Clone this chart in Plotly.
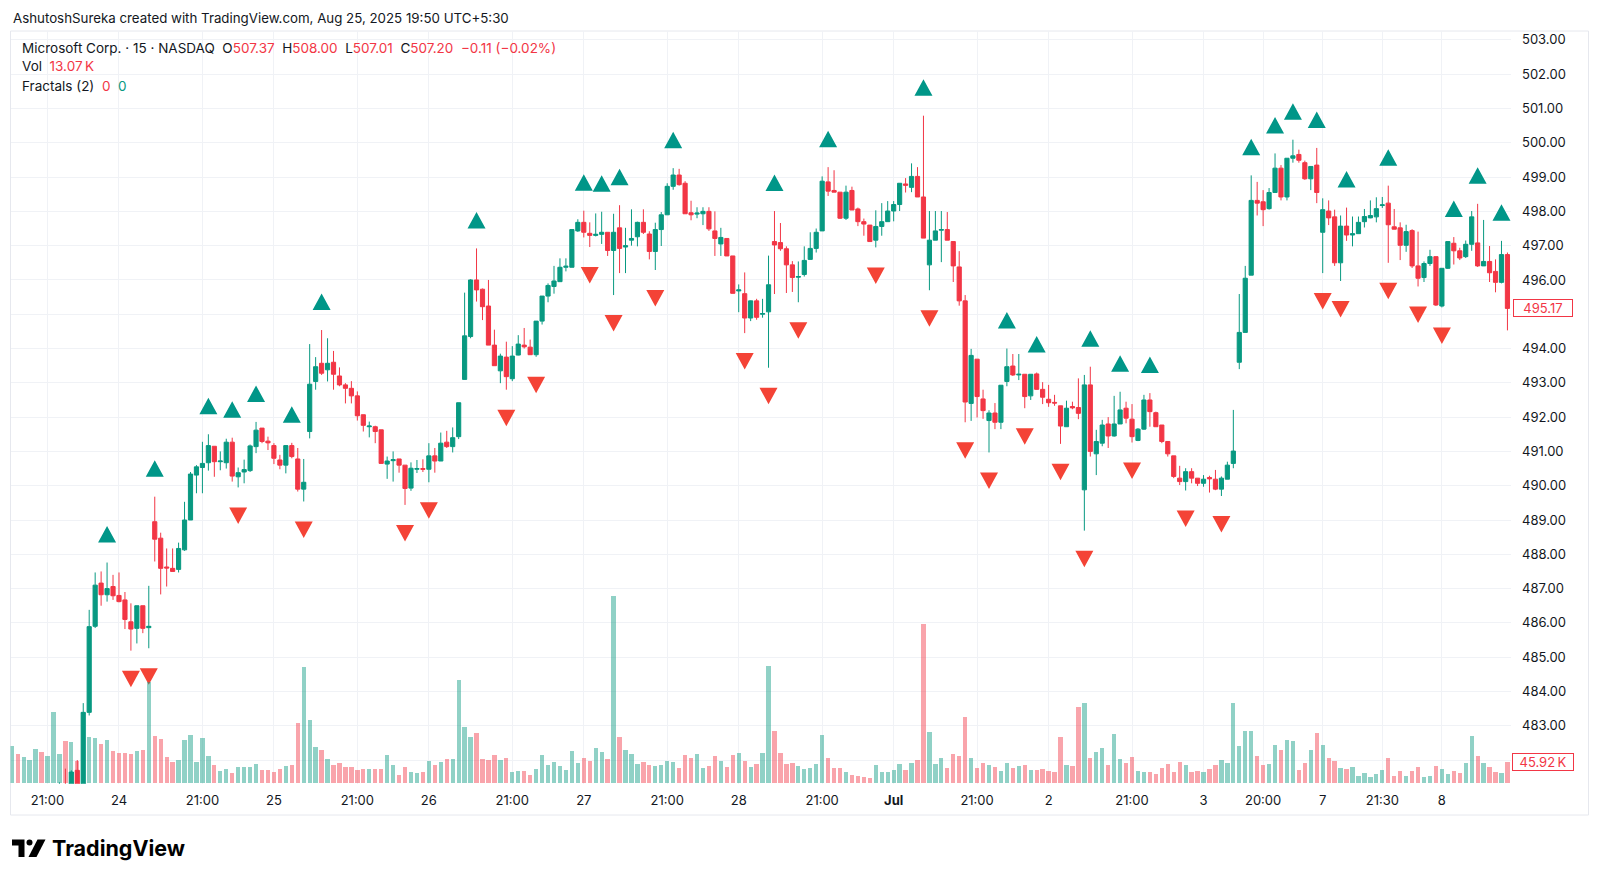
import plotly.graph_objects as go

W, H = 1600, 882

# ---------------- data (15-min bars, MSFT, NASDAQ) ----------------
opens = [
    480.2, 480.4, 480.1, 480.3, 480.6, 480.8, 480.5, 480.7, 481.0, 481.2,
    480.95, 481.7, 481.0, 483.39, 485.9, 487.16, 486.82, 487.06, 486.8, 486.67,
    486.03, 485.84, 486.5, 485.86, 488.95, 488.47, 487.63, 487.59, 487.56, 488.13,
    489.0, 490.31, 490.53, 490.67, 491.15, 490.7, 490.67, 491.27, 490.26, 490.4,
    490.44, 491.14, 491.68, 491.3, 491.17, 490.75, 490.6, 491.17, 490.78, 489.9,
    491.58, 493.04, 493.57, 493.38, 493.6, 493.2, 492.94, 492.84, 492.62, 492.07,
    491.72, 491.72, 491.63, 490.63, 490.73, 490.78, 490.6, 489.93, 490.48, 490.5,
    490.48, 490.87, 490.72, 491.27, 491.14, 491.43, 493.1, 494.35, 496.0, 495.73,
    495.24, 494.1, 493.35, 493.75, 493.12, 493.81, 494.1, 494.04, 493.82, 494.8,
    495.53, 495.81, 495.95, 496.37, 496.37, 497.43, 497.68, 497.36, 497.3, 497.33,
    497.39, 496.86, 497.52, 496.96, 497.16, 497.26, 497.68, 497.34, 496.83, 497.47,
    497.9, 498.73, 499.06, 498.82, 497.96, 497.92, 497.93, 498.0, 497.43, 497.05,
    497.21, 496.7, 495.68, 495.6, 494.89, 495.39, 495.0, 495.07, 497.12, 497.09,
    496.91, 496.44, 496.08, 496.16, 496.6, 496.92, 497.43, 498.86, 498.61, 498.56,
    497.8, 498.61, 498.07, 497.7, 497.6, 497.16, 497.56, 497.7, 498.01, 498.2,
    498.8, 498.7, 499.02, 498.42, 496.44, 497.16, 497.45, 497.47, 497.12, 496.38,
    495.39, 492.4, 493.69, 492.53, 491.9, 492.12, 491.85, 493.04, 493.49, 493.23,
    493.25, 492.62, 493.26, 492.81, 492.52, 492.43, 492.33, 491.72, 492.31, 492.28,
    489.88, 492.94, 490.93, 491.24, 491.8, 491.45, 491.8, 492.26, 491.94, 491.32,
    491.65, 492.5, 492.13, 491.77, 491.29, 490.87, 490.22, 490.12, 490.41, 490.22,
    490.07, 490.24, 490.19, 489.9, 490.19, 490.65, 493.6, 494.47, 496.14, 498.32,
    498.28, 498.08, 498.55, 499.26, 498.42, 499.55, 499.66, 499.42, 498.95, 499.35,
    497.39, 498.01, 497.84, 496.5, 497.57, 497.31, 497.35, 497.7, 497.81, 497.84,
    498.17, 498.24, 497.55, 497.52, 497.01, 497.44, 496.41, 496.07, 496.48, 496.68,
    495.24, 496.34, 497.07, 496.85, 496.68, 497.04, 497.08, 496.41, 496.54, 496.25,
    495.93, 496.74,
]
highs = [
    480.6, 480.7, 480.5, 480.8, 481.0, 481.1, 480.9, 481.2, 481.35, 481.75,
    481.7, 482.0, 483.66, 486.38, 487.47, 487.5, 487.76, 487.4, 487.47, 486.9,
    486.57, 486.5, 486.5, 487.08, 489.68, 488.63, 488.17, 488.17, 488.34, 489.53,
    490.4, 490.6, 491.28, 491.5, 491.15, 491.0, 491.37, 491.4, 490.53, 490.76,
    491.2, 491.86, 491.68, 491.43, 491.24, 490.9, 491.18, 491.25, 491.1, 490.78,
    494.13, 493.75, 494.54, 494.3, 493.93, 493.45, 492.99, 493.05, 492.75, 492.07,
    491.87, 491.75, 491.63, 490.85, 491.0, 490.78, 490.6, 490.68, 490.75, 490.77,
    491.24, 491.1, 491.55, 491.6, 491.7, 492.42, 495.63, 496.02, 496.92, 495.75,
    496.0, 494.55, 493.85, 494.2, 494.07, 494.39, 494.6, 494.26, 494.8, 495.53,
    495.9, 496.41, 496.63, 496.63, 497.47, 497.77, 498.02, 497.68, 497.94, 497.99,
    497.39, 497.93, 498.18, 497.52, 498.06, 497.7, 498.06, 497.42, 497.67, 497.98,
    498.82, 499.26, 499.24, 498.88, 498.31, 498.12, 498.12, 498.12, 498.0, 497.52,
    497.21, 496.7, 495.87, 496.22, 495.4, 495.45, 495.45, 496.71, 498.01, 497.66,
    496.98, 496.55, 496.54, 496.98, 497.39, 497.5, 499.02, 499.29, 499.2, 498.56,
    498.75, 498.72, 498.11, 497.79, 497.6, 498.03, 498.24, 498.3, 498.3, 498.82,
    498.97, 499.4, 499.29, 500.79, 498.01, 498.01, 498.01, 497.98, 497.12, 496.84,
    495.56, 493.99, 493.69, 492.8, 492.2, 492.41, 492.93, 494.0, 493.84, 493.84,
    493.25, 493.25, 493.3, 493.02, 492.94, 492.65, 492.33, 492.48, 492.45, 493.13,
    493.23, 493.47, 491.63, 491.92, 492.0, 492.62, 492.74, 492.45, 492.38, 491.68,
    492.65, 492.7, 492.16, 491.77, 491.29, 490.87, 490.58, 490.51, 490.51, 490.22,
    490.31, 490.29, 490.46, 490.27, 490.7, 492.21, 495.59, 496.41, 499.05, 498.86,
    498.62, 498.68, 499.69, 499.35, 499.55, 500.09, 499.8, 499.48, 499.31, 499.85,
    498.38, 498.32, 498.05, 497.88, 498.11, 497.85, 497.85, 498.07, 498.32, 498.41,
    498.42, 498.75, 498.07, 497.68, 497.61, 497.48, 497.41, 496.54, 496.88, 496.68,
    496.34, 497.12, 497.25, 496.94, 497.15, 498.01, 498.22, 497.75, 496.99, 496.6,
    497.14, 496.8,
]
lows = [
    479.9, 480.0, 479.8, 480.1, 480.3, 480.3, 480.2, 480.4, 480.7, 480.8,
    480.7, 480.9, 480.8, 483.3, 485.85, 486.5, 486.62, 486.67, 486.6, 485.82,
    485.19, 485.4, 485.7, 485.26, 487.79, 486.83, 487.06, 487.5, 487.47, 488.1,
    489.0, 489.78, 489.78, 490.44, 490.26, 490.45, 490.5, 490.12, 489.95, 490.07,
    490.4, 490.95, 491.24, 491.04, 490.63, 490.48, 490.36, 490.8, 489.83, 489.54,
    491.38, 492.8, 493.23, 493.04, 492.8, 492.9, 492.4, 492.4, 491.9, 491.58,
    491.41, 491.24, 490.65, 490.2, 490.12, 490.38, 489.44, 489.85, 490.37, 490.4,
    490.1, 490.38, 490.72, 491.1, 490.97, 491.36, 493.1, 494.3, 495.37, 494.83,
    494.1, 493.5, 492.99, 492.8, 493.05, 493.8, 494.0, 493.82, 493.76, 494.7,
    495.35, 495.6, 495.95, 496.25, 496.37, 497.4, 497.24, 496.96, 497.27, 497.05,
    496.7, 495.56, 496.2, 496.2, 497.0, 496.98, 497.34, 496.6, 496.29, 496.99,
    497.9, 498.63, 498.75, 497.93, 497.74, 497.8, 497.6, 497.43, 496.7, 496.7,
    496.7, 495.61, 495.06, 494.45, 494.8, 494.84, 494.9, 493.44, 495.59, 496.85,
    495.62, 495.65, 495.35, 496.1, 496.6, 496.8, 497.43, 498.45, 498.56, 497.78,
    497.75, 498.04, 497.57, 497.29, 497.12, 496.95, 497.29, 497.7, 497.71, 498.01,
    498.55, 498.56, 498.42, 497.22, 495.7, 497.16, 496.52, 497.16, 495.94, 495.25,
    491.85, 491.89, 491.99, 491.95, 490.97, 491.65, 491.65, 492.9, 493.2, 493.08,
    492.26, 492.5, 492.8, 492.38, 492.3, 492.33, 491.22, 491.72, 492.23, 491.94,
    488.69, 490.85, 490.31, 491.15, 491.1, 491.43, 491.8, 491.82, 491.26, 491.3,
    491.63, 491.72, 491.72, 491.24, 490.85, 490.22, 490.02, 489.86, 490.07, 489.99,
    489.97, 489.8, 489.87, 489.7, 490.19, 490.51, 493.4, 494.47, 496.14, 497.88,
    497.57, 498.05, 498.55, 498.32, 498.32, 499.42, 499.42, 498.92, 498.62, 498.24,
    496.2, 497.6, 496.41, 495.97, 497.14, 496.98, 497.35, 497.53, 497.8, 497.68,
    498.1, 496.5, 497.48, 496.58, 496.82, 496.35, 495.81, 495.94, 496.41, 495.24,
    495.2, 496.32, 496.45, 496.58, 496.64, 496.85, 496.38, 496.41, 495.94, 495.64,
    495.9, 494.53,
]
closes = [
    480.4, 480.1, 480.3, 480.6, 480.8, 480.5, 480.7, 481.0, 481.2, 480.95,
    481.65, 481.0, 483.39, 485.89, 487.1, 486.82, 487.0, 486.79, 486.62, 486.1,
    485.82, 486.5, 485.84, 485.9, 488.44, 487.59, 487.6, 487.5, 488.17, 489.0,
    490.34, 490.55, 490.65, 491.17, 490.7, 490.72, 491.27, 490.28, 490.38, 490.47,
    491.16, 491.62, 491.29, 491.25, 490.8, 490.6, 491.17, 490.85, 489.9, 490.1,
    492.96, 493.47, 493.28, 493.57, 493.25, 492.94, 492.84, 492.62, 492.04, 491.76,
    491.74, 491.58, 490.65, 490.72, 490.76, 490.6, 489.92, 490.51, 490.5, 490.48,
    490.87, 490.72, 491.24, 491.14, 491.4, 492.42, 494.37, 496.0, 495.71, 495.22,
    494.1, 493.5, 493.78, 493.18, 493.78, 494.13, 494.05, 493.82, 494.8, 495.53,
    495.84, 495.97, 496.37, 496.4, 497.47, 497.68, 497.39, 497.3, 497.33, 497.39,
    496.86, 497.39, 496.92, 497.0, 497.21, 497.68, 497.39, 496.83, 497.47, 497.9,
    498.73, 499.06, 498.78, 497.93, 497.9, 497.95, 498.0, 497.49, 497.21, 497.24,
    496.7, 495.61, 495.71, 494.89, 495.39, 494.91, 495.02, 495.86, 497.02, 496.91,
    496.44, 496.07, 496.1, 496.57, 496.92, 497.39, 498.88, 498.59, 498.56, 497.8,
    498.56, 498.04, 497.7, 497.63, 497.12, 497.56, 497.7, 498.01, 498.2, 498.82,
    498.76, 499.02, 498.42, 497.22, 497.16, 497.43, 497.47, 497.16, 496.41, 495.39,
    492.44, 493.8, 492.6, 492.19, 492.12, 491.85, 492.93, 493.47, 493.23, 493.25,
    492.6, 493.25, 492.81, 492.58, 492.42, 492.41, 491.74, 492.26, 492.27, 492.11,
    492.94, 491.0, 491.29, 491.77, 491.45, 491.8, 492.21, 491.97, 491.43, 491.65,
    492.5, 492.16, 491.72, 491.29, 490.93, 490.27, 490.12, 490.41, 490.22, 490.07,
    490.19, 490.2, 489.9, 490.22, 490.6, 491.01, 494.47, 496.05, 498.32, 498.24,
    498.05, 498.55, 499.26, 498.42, 499.55, 499.62, 499.49, 498.95, 499.31, 498.55,
    498.05, 497.81, 496.5, 497.57, 497.31, 497.35, 497.68, 497.85, 497.88, 498.08,
    498.19, 497.61, 497.48, 497.01, 497.41, 496.41, 496.05, 496.48, 496.68, 495.27,
    496.34, 497.12, 496.85, 496.64, 497.04, 497.84, 496.41, 496.54, 496.21, 495.93,
    496.74, 495.17,
]
volumes_k = [
    83.0, 64.9, 58.8, 51.3, 75.3, 70.1, 61.1, 160.6, 64.9, 95.0,
    92.7, 49.8, 153.8, 104.1, 101.8, 88.2, 96.6, 71.7, 67.9, 67.9,
    65.6, 72.4, 74.6, 228.5, 105.6, 99.5, 58.8, 47.5, 52.0, 96.6,
    107.9, 47.5, 101.8, 61.1, 40.0, 26.5, 30.1, 22.6, 34.6, 36.2,
    34.6, 42.3, 28.7, 28.7, 24.2, 31.7, 37.8, 40.0, 134.1, 262.4,
    141.8, 79.8, 74.0, 52.7, 39.1, 45.2, 34.6, 36.2, 28.7, 31.7,
    30.1, 30.1, 30.1, 63.3, 39.1, 18.1, 34.6, 24.9, 22.6, 24.9,
    49.1, 40.0, 45.9, 52.7, 53.6, 232.3, 126.7, 104.1, 111.5, 54.3,
    51.3, 61.8, 51.3, 56.6, 23.5, 25.6, 25.6, 17.6, 31.7, 63.3,
    40.7, 47.5, 38.5, 29.4, 72.4, 45.2, 56.6, 49.8, 79.2, 70.1,
    53.2, 423.0, 104.1, 74.6, 64.9, 43.0, 47.5, 40.7, 37.3, 40.7,
    49.1, 47.5, 33.5, 63.3, 56.6, 64.9, 33.5, 37.3, 61.1, 49.1,
    35.5, 62.9, 67.0, 49.1, 34.8, 42.3, 66.5, 264.7, 116.3, 66.5,
    42.3, 44.3, 37.1, 31.7, 33.9, 42.3, 108.6, 56.1, 32.8, 32.8,
    24.2, 17.0, 14.7, 12.7, 10.6, 40.3, 24.2, 24.2, 29.4, 42.3,
    29.4, 45.2, 50.7, 359.7, 114.2, 42.3, 55.0, 32.8, 65.6, 61.1,
    149.3, 55.0, 32.8, 44.3, 40.3, 36.2, 27.1, 43.7, 32.3, 37.8,
    40.0, 28.7, 28.7, 31.0, 27.1, 24.2, 102.5, 40.0, 37.8, 170.3,
    181.0, 56.6, 70.1, 79.2, 40.0, 110.2, 53.6, 43.7, 58.8, 27.1,
    24.9, 24.9, 19.7, 33.3, 42.3, 23.3, 46.8, 39.1, 23.3, 25.6,
    24.2, 30.1, 39.1, 51.3, 43.7, 181.0, 83.0, 116.3, 116.3, 60.2,
    39.4, 41.4, 85.1, 74.6, 96.6, 93.4, 29.0, 43.7, 74.6, 112.0,
    86.0, 55.0, 48.9, 33.3, 31.2, 35.3, 15.6, 22.6, 13.6, 18.8,
    28.0, 55.0, 14.5, 26.0, 14.5, 26.0, 36.2, 12.4, 15.6, 38.5,
    31.2, 20.8, 26.0, 22.6, 43.7, 105.9, 60.2, 43.7, 35.3, 24.9,
    22.6, 45.92,
]
up_fractals = [16, 24, 33, 37, 41, 47, 52, 78, 96, 99, 102, 111, 128, 137, 153,
               167, 172, 181, 186, 191, 208, 212, 215, 219, 224, 231, 242, 246, 250]
down_fractals = [20, 23, 38, 49, 66, 70, 83, 88, 97, 101, 108, 123, 127, 132, 145,
                 154, 160, 164, 170, 176, 180, 188, 197, 203, 220, 223, 231, 236, 240]

time_tick_idx = [6, 18, 32, 44, 58, 70, 84, 96, 110, 122, 136, 148, 162, 174,
                 188, 200, 210, 220, 230, 240]
time_tick_text = ["21:00", "24", "21:00", "25", "21:00", "26", "21:00", "27",
                  "21:00", "28", "21:00", "<b>Jul</b>", "21:00", "2", "21:00",
                  "3", "20:00", "7", "21:30", "8"]
price_ticks = [482, 483, 484, 485, 486, 487, 488, 489, 490, 491, 492, 493, 494,
               495, 496, 497, 498, 499, 500, 501, 502, 503]

last_price = 495.17
last_volume_label = "45.92\u2009K"

# ---------------- styling ----------------
UP = "#089981"
DN = "#F23645"
UP_VOL = "rgba(8,153,129,0.45)"
DN_VOL = "rgba(242,54,69,0.45)"
FR_UP = "#009688"
FR_DN = "#F44336"
TXT = "#131722"
GRID = "#F0F2F6"
FONT = "Inter, Roboto, sans-serif"

# pane geometry in pixels
PANE_L, PANE_R, PANE_T, PANE_B = 10.5, 1511.0, 31.0, 783.7
X0_PX, DX_PX = 11.73, 5.959          # pixel x of bar 0 and bar spacing
Y_TOP, Y_BOT = 503.26, 481.31         # price range shown
PX_PER_PRICE = (PANE_B - PANE_T) / (Y_TOP - Y_BOT)

n = len(closes)
idx = list(range(n))

fig = go.Figure()

# volume (behind)
vol_colors = [UP_VOL if c >= o else DN_VOL for o, c in zip(opens, closes)]
fig.add_trace(go.Bar(x=idx, y=volumes_k, yaxis="y2", marker=dict(color=vol_colors, line=dict(width=0)),
                     width=0.72, showlegend=False, hoverinfo="skip"))

# candles
fig.add_trace(go.Candlestick(
    x=idx, open=opens, high=highs, low=lows, close=closes,
    increasing=dict(line=dict(color=UP, width=1), fillcolor=UP),
    decreasing=dict(line=dict(color=DN, width=1), fillcolor=DN),
    whiskerwidth=0, showlegend=False, hoverinfo="skip"))

# fractal triangles (polygons offset a fixed number of pixels from the bar)
GAP_PX, TRI_H_PX, TRI_HW_PX = 20.0, 16.5, 9.0
gap = GAP_PX / PX_PER_PRICE
th = TRI_H_PX / PX_PER_PRICE
hw = TRI_HW_PX / DX_PX
ux, uy = [], []
for k in up_fractals:
    b = highs[k] + gap
    ux += [k - hw, k + hw, k, k - hw, None]
    uy += [b, b, b + th, b, None]
dx_, dy_ = [], []
for k in down_fractals:
    b = lows[k] - gap
    dx_ += [k - hw, k + hw, k, k - hw, None]
    dy_ += [b, b, b - th, b, None]
fig.add_trace(go.Scatter(x=ux, y=uy, mode="lines", fill="toself", fillcolor=FR_UP,
                         line=dict(width=0, color=FR_UP), showlegend=False, hoverinfo="skip"))
fig.add_trace(go.Scatter(x=dx_, y=dy_, mode="lines", fill="toself", fillcolor=FR_DN,
                         line=dict(width=0, color=FR_DN), showlegend=False, hoverinfo="skip"))

x_lo = (PANE_L - X0_PX) / DX_PX
x_hi = (PANE_R - X0_PX) / DX_PX
dom_y = [1 - PANE_B / H, 1 - PANE_T / H]

# the last-price box sits on top of the 495.00 label on the price scale
hidden_ticks = {482, int(last_price)}

vol_k_per_px = 45.92 / 20.3
fig.update_layout(
    width=W, height=H,
    margin=dict(l=0, r=0, t=0, b=0),
    paper_bgcolor="white", plot_bgcolor="white",
    font=dict(family=FONT, color=TXT, size=13),
    boxgap=0.3, boxgroupgap=0.0,
    bargap=0,
    xaxis=dict(domain=[PANE_L / W, PANE_R / W], range=[x_lo, x_hi],
               tickmode="array", tickvals=time_tick_idx, ticktext=time_tick_text,
               showgrid=True, gridcolor=GRID, gridwidth=1, zeroline=False,
               showline=False, ticks="", ticklabelstandoff=7,
               tickfont=dict(size=13, color=TXT, family=FONT),
               rangeslider=dict(visible=False), fixedrange=True),
    yaxis=dict(domain=dom_y, range=[Y_BOT, Y_TOP], side="right",
               tickmode="array", tickvals=price_ticks,
               ticktext=["" if p in hidden_ticks else f"{p:.2f}" for p in price_ticks],
               showgrid=True, gridcolor=GRID, gridwidth=1, zeroline=False,
               showline=False, ticks="", ticklabelstandoff=10,
               tickfont=dict(size=13, color=TXT, family=FONT), fixedrange=True),
    yaxis2=dict(overlaying="y", range=[-1.0 * vol_k_per_px, (PANE_B - PANE_T - 1.0) * vol_k_per_px],
                visible=False, fixedrange=True),
)

def px(x):
    return x / W

def py(y):
    return 1 - y / H

# frame
fig.add_shape(type="rect", xref="paper", yref="paper", x0=px(10.5), x1=px(1588.5),
              y0=py(815), y1=py(31), line=dict(color="#E6E8EE", width=1), layer="below")

red = DN
sp = "\u00a0"
annos = [
    dict(x=px(11), y=py(17.5), text="AshutoshSureka created with TradingView.com, Aug 25, 2025 19:50 UTC+5:30",
         font=dict(size=13.3, color=TXT)),
    dict(x=px(20), y=py(48),
         text=(f"Microsoft Corp. · 15 · NASDAQ{sp}{sp}O<span style='color:{red}'>507.37</span>{sp}{sp}"
               f"H<span style='color:{red}'>508.00</span>{sp}{sp}L<span style='color:{red}'>507.01</span>{sp}{sp}"
               f"C<span style='color:{red}'>507.20</span>{sp}{sp}<span style='color:{red}'>−0.11 (−0.02%)</span>"),
         font=dict(size=13.5, color=TXT)),
    dict(x=px(20), y=py(66.5), text=f"Vol{sp}{sp}<span style='color:{red}'>13.07\u2009K</span>",
         font=dict(size=13.5, color=TXT)),
    dict(x=px(20), y=py(86),
         text=f"Fractals (2){sp}{sp}<span style='color:{red}'>0</span>{sp}{sp}<span style='color:{UP}'>0</span>",
         font=dict(size=13.5, color=TXT)),
    dict(x=px(50), y=py(848), text="<b>TradingView</b>", font=dict(size=21.5, color="#000000")),
]
for a in annos:
    fig.add_annotation(xref="paper", yref="paper", xanchor="left", yanchor="middle",
                       showarrow=False, **a)

# last price / last volume labels on the price scale
fig.add_annotation(xref="paper", yref="y", x=px(1513), y=last_price, xanchor="left", yanchor="middle",
                   text=f"{last_price:.2f}", showarrow=False, font=dict(size=13, color=red),
                   bgcolor="white", bordercolor=red, borderwidth=1, borderpad=0,
                   width=58, height=16, align="center")
fig.add_annotation(xref="paper", yref="y2", x=px(1512), y=volumes_k[-1], xanchor="left", yanchor="middle",
                   text=last_volume_label, showarrow=False, font=dict(size=13, color=red),
                   bgcolor="white", bordercolor=red, borderwidth=1, borderpad=0,
                   width=60, height=16, align="center")

# TradingView logo glyph
def path(points):
    return "M " + " L ".join(f"{px(a)},{py(b)}" for a, b in points) + " Z"

logo = "#000000"
fig.add_shape(type="path", xref="paper", yref="paper",
              path=path([(12, 839.5), (24.5, 839.5), (24.5, 857), (18.5, 857), (18.5, 845.5), (12, 845.5)]),
              fillcolor=logo, line=dict(width=0))
fig.add_shape(type="circle", xref="paper", yref="paper", x0=px(26.5), x1=px(32.5), y0=py(845.5), y1=py(839.5),
              fillcolor=logo, line=dict(width=0))
fig.add_shape(type="path", xref="paper", yref="paper",
              path=path([(37.5, 839.5), (45.5, 839.5), (36.5, 857), (28.5, 857)]),
              fillcolor=logo, line=dict(width=0))

fig.write_html("out.html", include_plotlyjs=True, config=dict(displayModeBar=False, staticPlot=True))
